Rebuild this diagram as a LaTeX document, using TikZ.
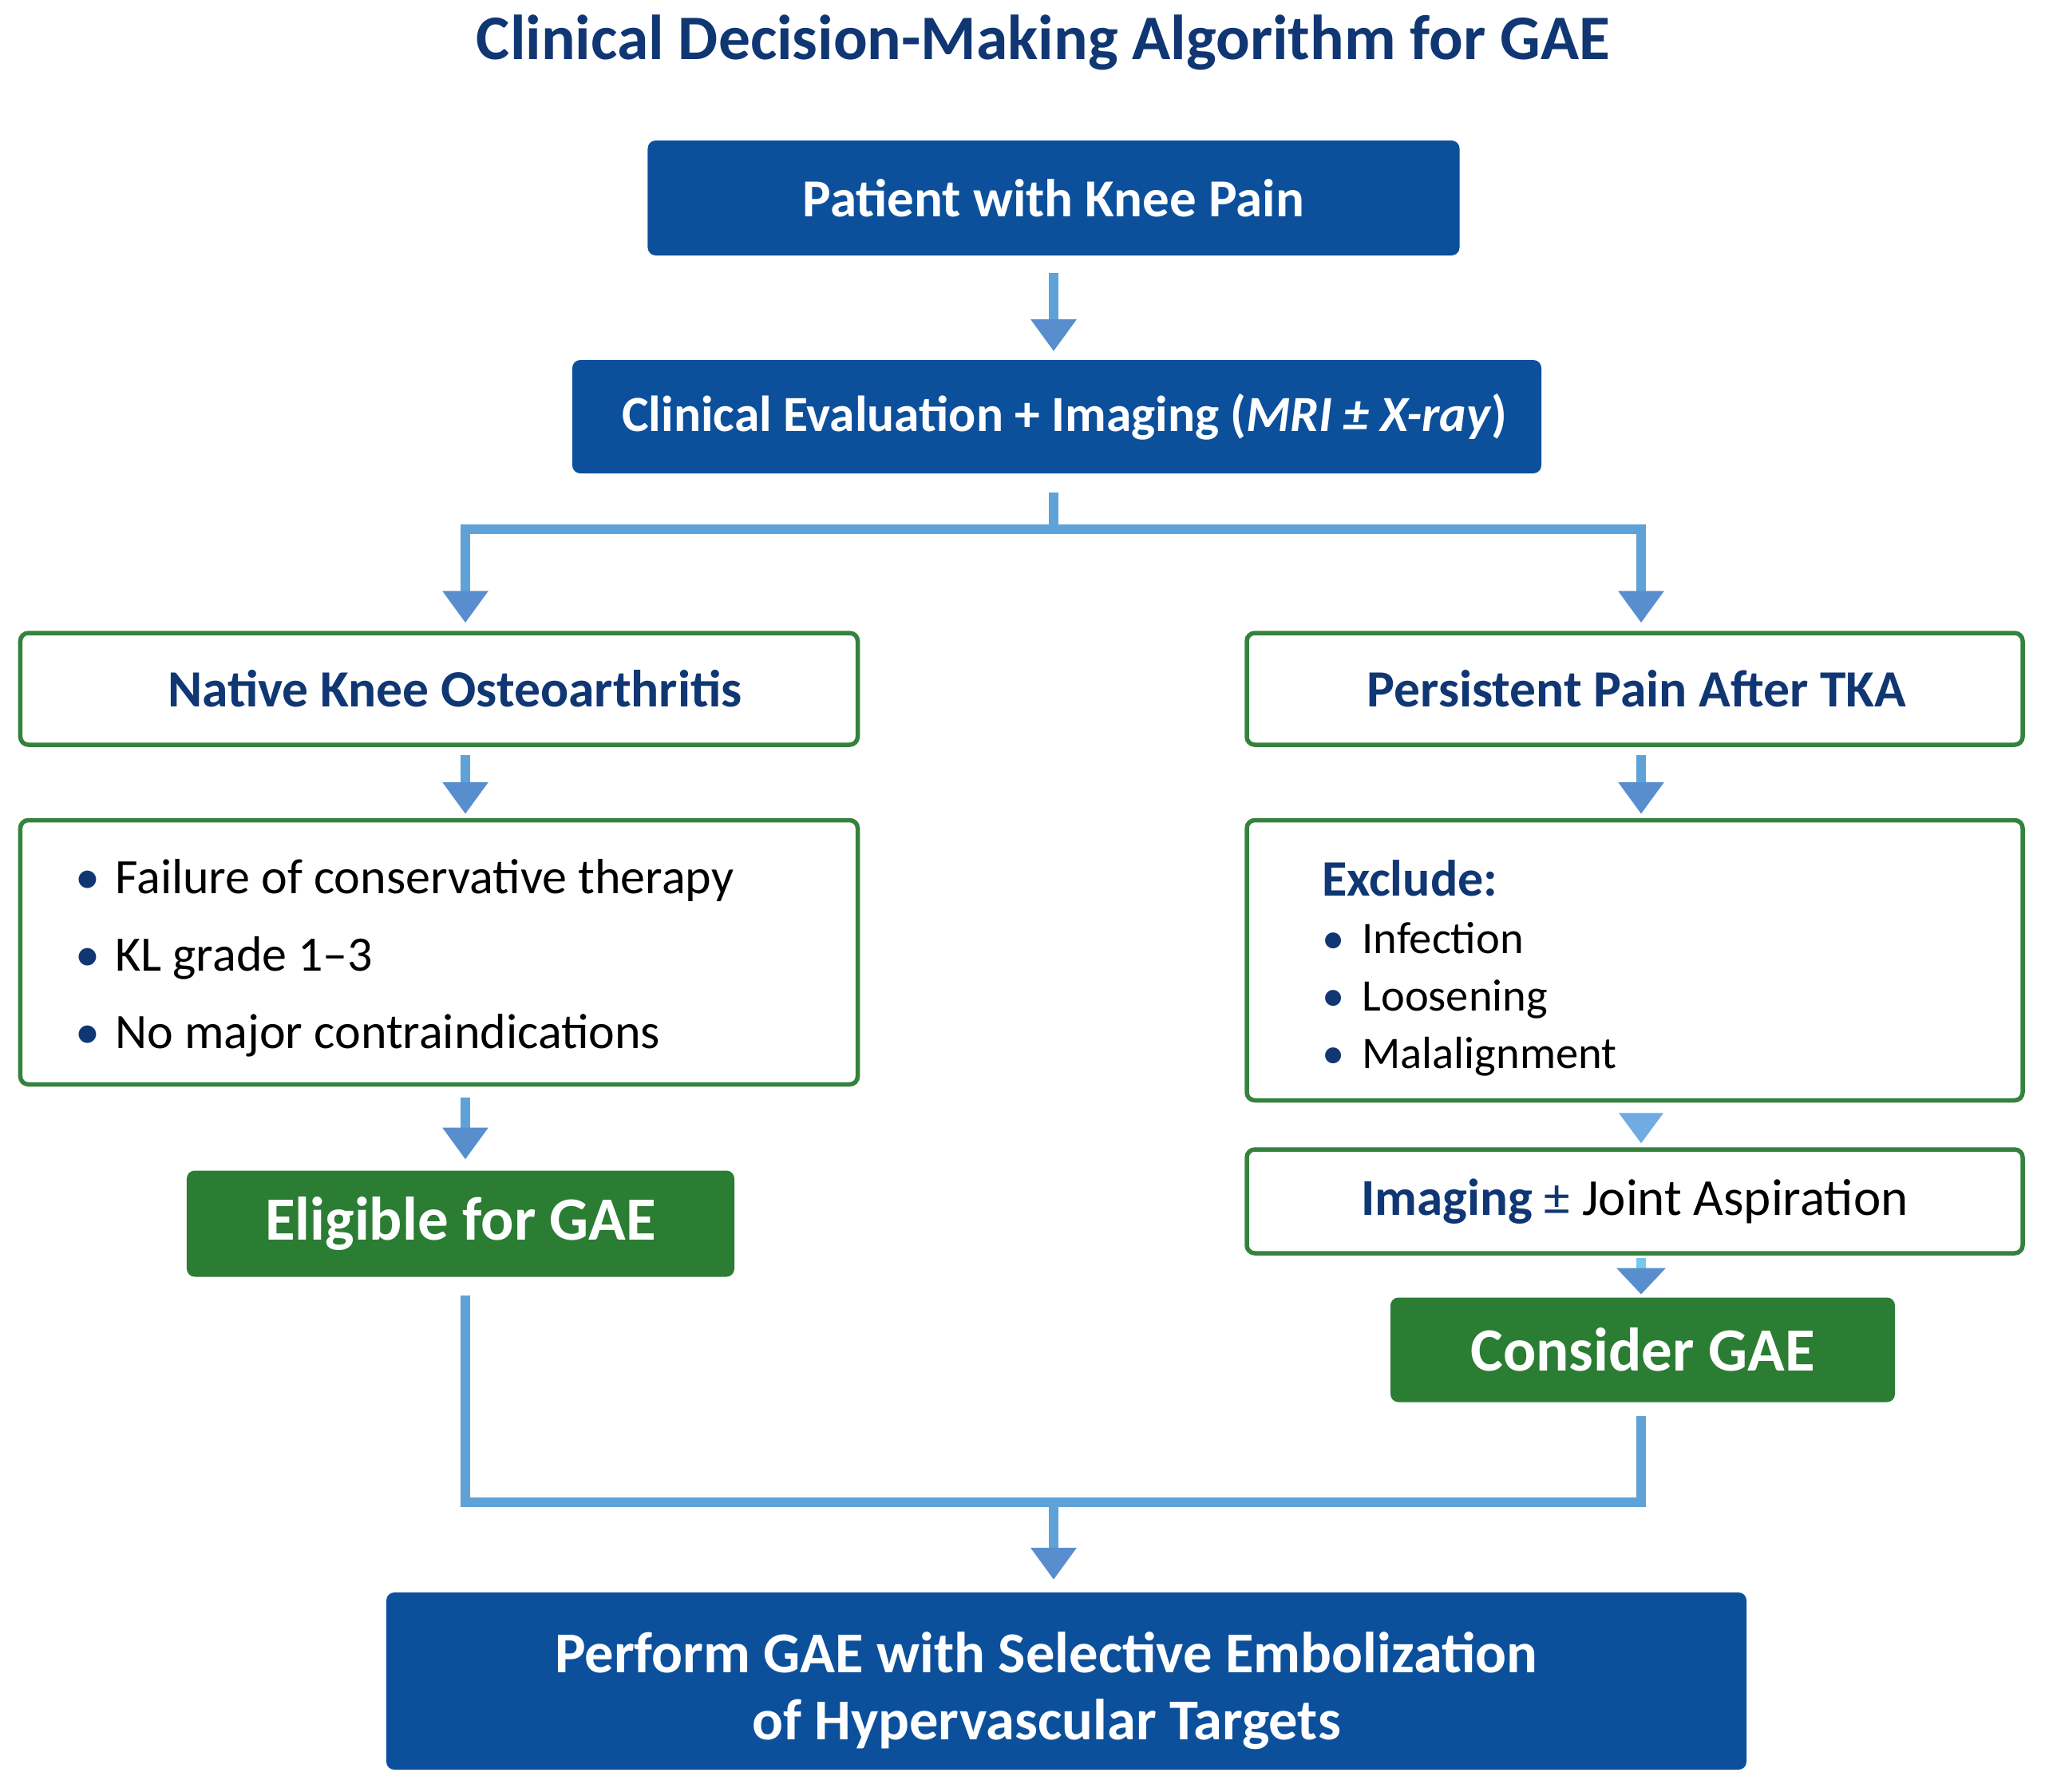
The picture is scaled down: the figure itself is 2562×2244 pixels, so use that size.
\documentclass[tikz,border=0pt]{standalone}
\usepackage{fontspec}
\setmainfont{Carlito}
\usetikzlibrary{arrows.meta,calc}
\definecolor{boxblue}{RGB}{12,80,156}
\definecolor{boxgreen}{RGB}{42,125,50}
\definecolor{bordergreen}{RGB}{52,130,60}
\definecolor{navy}{RGB}{16,55,115}
\definecolor{arrblue}{RGB}{95,162,215}
\definecolor{headblue}{RGB}{88,142,206}
\definecolor{trilight}{RGB}{112,172,226}
\definecolor{stemlight}{RGB}{120,200,235}
\newcommand{\bul}{\makebox[10.1pt][l]{\textcolor{navy}{\textbullet}}}
\tikzset{
  bluebox/.style={draw=none, fill=boxblue, rounded corners=2pt, text=white, font=\fontsize{13.4}{16.8}\selectfont\bfseries, align=center, inner sep=0pt},
  greenbox/.style={draw=none, fill=boxgreen, rounded corners=2pt, text=white, font=\fontsize{15.4}{18}\selectfont\bfseries, align=center, inner sep=0pt},
  whitebox/.style={draw=bordergreen, line width=1.1pt, fill=white, rounded corners=2pt, inner sep=0pt},
  conn/.style={draw=arrblue, line width=2.3pt, line join=miter},
  arr/.style={conn, -{Triangle[width=11pt,length=8pt,color=headblue]}},
  arrsmall/.style={conn, draw=stemlight, -{Triangle[width=12pt,length=6.6pt,color=headblue]}},
}
\begin{document}
\begin{tikzpicture}[x=0.2pt, y=-0.2pt]
\useasboundingbox (0,0) rectangle (2562,2244);
\fill[white] (0,0) rectangle (2562,2244);

\node[text=navy, font=\fontsize{15.9}{18}\selectfont\bfseries] (title) at (1307,53) {Clinical Decision-Making Algorithm for GAE};

\node[bluebox, minimum width=203.4pt, minimum height=28.8pt] (patient) at (1320,248) {Patient with Knee Pain};
\node[bluebox, minimum width=242.8pt, minimum height=28.4pt, font=\fontsize{12.7}{16}\selectfont\bfseries] (eval) at (1324,522) {\hspace*{4pt}Clinical Evaluation + Imaging (\textit{MRI ± X-ray})};

\node[whitebox, minimum width=209.8pt, minimum height=28pt, text=navy, font=\fontsize{13.1}{16}\selectfont\bfseries] (native) at (550,863) {\hspace*{8pt}Native Knee Osteoarthritis};
\node[whitebox, minimum width=209.8pt, minimum height=66.2pt] (crit) at (550,1193) {};
\node[anchor=west, align=left, inner sep=0pt, font=\fontsize{12.4}{19.4}\selectfont] (critlist) at (93,1200) {\bul Failure of conservative therapy\\ \bul KL grade 1–3\\ \bul No major contraindications};
\node[greenbox, minimum width=137.2pt, minimum height=26.6pt] (elig) at (577,1533) {Eligible for GAE};

\node[whitebox, minimum width=194.4pt, minimum height=28pt, text=navy, font=\fontsize{13.1}{16}\selectfont\bfseries] (persist) at (2048,863) {\hspace*{1pt}Persistent Pain After TKA};
\node[whitebox, minimum width=194.4pt, minimum height=70.2pt] (excl) at (2048,1203) {};
\node[anchor=west, align=left, inner sep=0pt, font=\fontsize{11.3}{14.4}\selectfont] (excllist) at (1655,1213) {\textcolor{navy}{\bfseries\fontsize{12.8}{14.4}\selectfont Exclude:}\\ \bul Infection\\ \bul Loosening\\ \bul Malalignment};
\node[whitebox, minimum width=194.4pt, minimum height=26pt, font=\fontsize{13}{16}\selectfont] (imag) at (2048,1505) {\textcolor{navy}{\bfseries Imaging} \textcolor{navy}{±} Joint Aspiration};
\node[greenbox, minimum width=126.4pt, minimum height=26.2pt] (consider) at (2058,1691) {Consider GAE};

\node[bluebox, minimum width=340.8pt, minimum height=44.4pt] (perform) at (1336,2106) {};
\node[text=white, align=center, inner sep=0pt, font=\fontsize{14.5}{16.8}\selectfont\bfseries] (performtext) at (1311,2118) {Perform GAE with Selective Embolization\\ of Hypervascular Targets};

\coordinate (sp) at (1320,663);
\coordinate (bl) at (583,663);
\coordinate (br) at (2056,663);
\coordinate (mg) at (1320,1882);

\draw[arr, shorten <=4.2pt, shorten >=2pt] (patient.south) -- (eval.north -| patient.south);
\draw[conn, shorten <=4.6pt] (eval.south -| sp) -- (sp);
\draw[arr, shorten >=2pt] (sp) -| (native.north -| bl);
\draw[arr, shorten >=2pt] (sp) -| (persist.north -| br);

\draw[arr, shorten <=2pt, shorten >=1pt] (native.south -| bl) -- (crit.north -| bl);
\draw[arr, shorten <=2.8pt, shorten >=2.6pt] (crit.south -| bl) -- (elig.north -| bl);

\draw[arr, shorten <=2pt, shorten >=1pt] (persist.south -| br) -- (excl.north -| br);
\fill[trilight] ($(excl.south -| br)+(-28,13)$) -- ($(excl.south -| br)+(28,13)$) -- ($(excl.south -| br)+(0,51)$) -- cycle;
\draw[arrsmall, shorten <=0.6pt, shorten >=0.6pt] (imag.south -| br) -- (consider.north -| br);

\draw[conn, shorten <=4.4pt] (elig.south -| bl) |- (mg);
\draw[conn, shorten <=3.2pt] (consider.south -| br) |- (mg);
\draw[arr, shorten >=3pt] (mg) -- (perform.north -| mg);
\end{tikzpicture}
\end{document}
